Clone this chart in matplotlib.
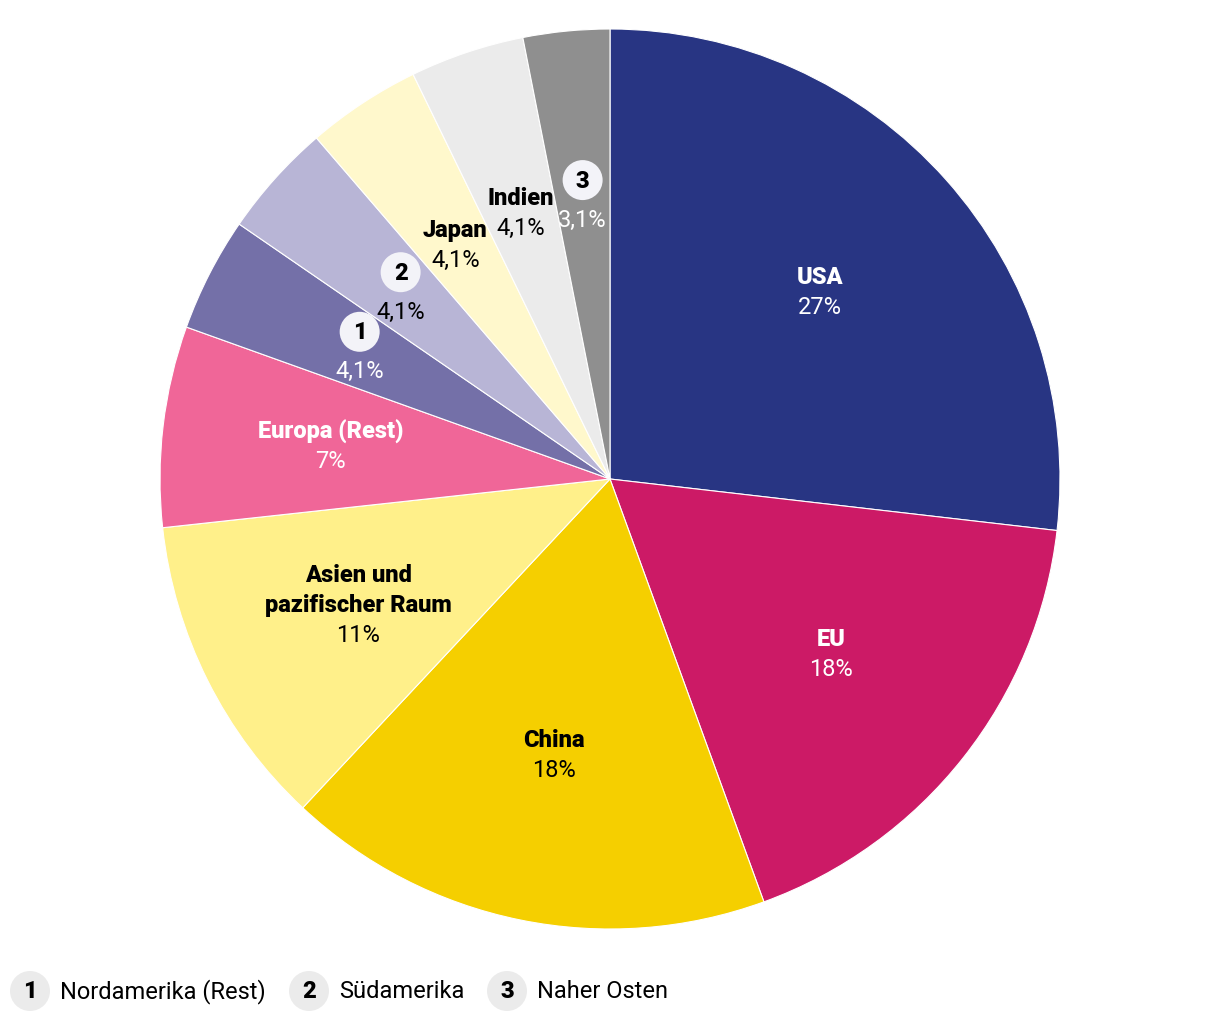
import numpy as np
import matplotlib
matplotlib.use("Agg")
import matplotlib.pyplot as plt
from matplotlib.patches import Circle

plt.rcParams['font.family'] = ['Roboto', 'DejaVu Sans']

# data, clockwise from 12 o'clock (shares in %)
names = ["USA", "EU", "China", "Asien und\npazifischer Raum", "Europa (Rest)",
         "1", "2", "Japan", "Indien", "3"]
values = [26.8, 17.6, 17.5, 11.3, 7.2, 4.1, 4.1, 4.1, 4.1, 3.1]
pct_labels = ["27%", "18%", "18%", "11%", "7%", "4,1%", "4,1%", "4,1%", "4,1%", "3,1%"]
colors = ["#283583", "#CC1A66", "#F5CF00", "#FFF08A", "#F06698",
          "#7470A8", "#B8B5D6", "#FFF8CC", "#EBEBEB", "#8F8F8F"]
text_colors = ["white", "white", "black", "black", "white",
               "white", "black", "black", "black", "white"]
badge = [False, False, False, False, False, True, True, False, False, True]
legend_nums = ["1", "2", "3"]
legend_names = ["Nordamerika (Rest)", "Südamerika", "Naher Osten"]

W, H = 1220, 1020
cx, cy, R = 610, H - 480, 450
FS = 17

fig = plt.figure(figsize=(W / 100, H / 100), dpi=100)
ax = fig.add_axes([0, 0, 1, 1])
wedges, _ = ax.pie(values, colors=colors, startangle=90, counterclock=False,
                   radius=R, center=(cx, cy), normalize=True,
                   wedgeprops=dict(edgecolor="white", linewidth=0.8))
ax.set_xlim(0, W)
ax.set_ylim(0, H)
ax.set_aspect("equal")
ax.axis("off")

total = sum(values)
start = 90.0
r_lab = 0.625 * R
for i, v in enumerate(values):
    span = 360.0 * v / total
    mid = np.deg2rad(start - span / 2)
    start -= span
    lx = cx + r_lab * np.cos(mid)
    ly = cy + r_lab * np.sin(mid)
    if badge[i]:
        ax.add_patch(Circle((lx, ly + 19), 20, fc="#F3F3F8", ec="none", zorder=3))
        ax.text(lx, ly + 19, names[i], ha="center", va="center", fontsize=FS,
                fontweight="black", color="black", zorder=4)
        ax.text(lx, ly - 20, pct_labels[i], ha="center", va="center", fontsize=FS,
                color=text_colors[i], zorder=4)
    else:
        lines = names[i].split("\n") + [pct_labels[i]]
        n = len(lines)
        for j, s in enumerate(lines):
            y = ly - (j - (n - 1) / 2) * 30
            bold = j < n - 1
            ax.text(lx, y, s, ha="center", va="center", fontsize=FS,
                    fontweight="black" if bold else "normal",
                    color=text_colors[i], zorder=4)

# legend row
leg_x = [30, 309, 507]
ly = H - 992
for x, num, name in zip(leg_x, legend_nums, legend_names):
    ax.add_patch(Circle((x, ly), 20, fc="#EBEBEB", ec="none"))
    ax.text(x, ly, num, ha="center", va="center", fontsize=FS, fontweight="black")
    ax.text(x + 30, ly, name, ha="left", va="center", fontsize=FS)

fig.savefig("out.png", dpi=100)
